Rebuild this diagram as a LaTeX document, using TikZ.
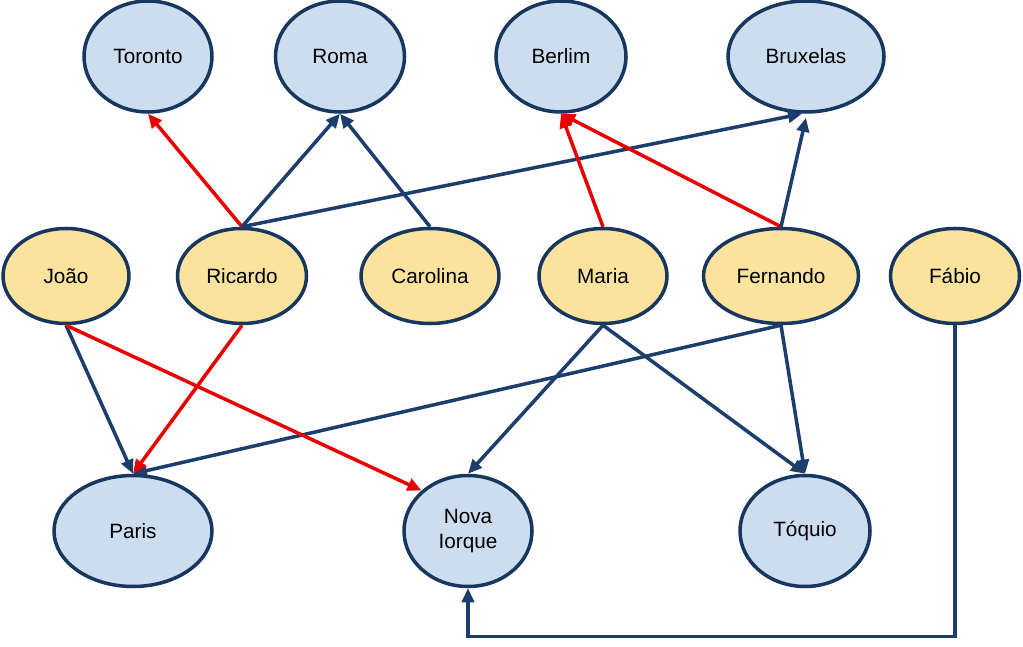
\documentclass[tikz,border=0pt]{standalone}
\usepackage{fontspec}
\setmainfont{Liberation Sans}
\usetikzlibrary{positioning}
\usetikzlibrary{shapes.geometric}
\usetikzlibrary{arrows.meta}
\usetikzlibrary{calc}

\definecolor{cityblue}{RGB}{204,221,240}
\definecolor{personyellow}{RGB}{251,226,157}
\definecolor{rim}{RGB}{23,55,94}
\definecolor{linkblue}{RGB}{28,62,108}
\definecolor{linkred}{RGB}{232,0,0}

\begin{document}
\begin{tikzpicture}[line width=2pt, >={Triangle[length=8pt,width=7pt]},
    main/.style = {draw=rim, ellipse, inner sep=0pt, font=\fontsize{11.8}{14}\selectfont, align=center},
    city/.style = {main, fill=cityblue, minimum height=2.22cm},
    person/.style = {main, fill=personyellow, minimum height=1.9cm},
    bluelink/.style = {linkblue, ->},
    redlink/.style = {linkred, ->}]
            \useasboundingbox (0,0) rectangle (20.46,-12.94);
            % cities at the top
            \node[city, minimum width=2.56cm] (toronto) at (2.96,-1.13) {Toronto};
            \node[city, minimum width=2.58cm] (roma) [right of = toronto, node distance=3.84cm] {Roma};
            \node[city, minimum width=2.6cm] (berlim) [right of = roma, node distance=4.42cm] {Berlim};
            \node[city, minimum width=3.12cm] (bruxelas) [right of = berlim, node distance=4.9cm] {Bruxelas};
            % people
            \node[person, minimum width=2.52cm] (joao) at (1.32,-5.52) {João};
            \node[person, minimum width=2.58cm] (ricardo) [right of = joao, node distance=3.52cm] {Ricardo};
            \node[person, minimum width=2.76cm] (carolina) [right of = ricardo, node distance=3.76cm] {Carolina};
            \node[person, minimum width=2.56cm] (maria) [right of = carolina, node distance=3.46cm] {Maria};
            \node[person, minimum width=3.1cm] (fernando) [right of = maria, node distance=3.56cm] {Fernando};
            \node[person, minimum width=2.58cm] (fabio) [right of = fernando, node distance=3.48cm] {Fábio};
            % cities at the bottom
            \node[city, minimum width=3.16cm] (paris) at (2.66,-10.62) {Paris};
            \node[city, minimum width=2.56cm] (nova) [right of = paris, node distance=6.7cm] {Nova\\Iorque};
            \node[city, minimum width=2.6cm] (toquio) [right of = nova, node distance=6.74cm] {Tóquio};
            % links up
            \draw (ricardo.north) [redlink] to (toronto.south);
            \draw (ricardo.north) [bluelink] to (roma.south);
            \draw (carolina.north) [bluelink] to (roma.south);
            \draw (ricardo.north) [bluelink] to ($(bruxelas.south)+(-0.08,0)$);
            \draw (maria.north) [redlink] to (berlim.south);
            \draw (fernando.north) [redlink] to (berlim.south);
            \draw (fernando.north) [bluelink] to ($(bruxelas.south)+(0,-0.08)$);
            % links down
            \draw (joao.south) [bluelink] to (paris.north);
            \draw (fernando.south) [bluelink] to (paris.north);
            \draw (ricardo.south) [redlink] to (paris.north);
            \draw (joao.south) [redlink] to (nova.north west);
            \draw (maria.south) [bluelink] to (nova.north);
            \draw (maria.south) [bluelink] to (toquio.north);
            \draw (fernando.south) [bluelink] to (toquio.north);
            \draw (fabio.south) [bluelink] -- ++(0,-6.22) -| (nova.south);
        \end{tikzpicture}
\end{document}
